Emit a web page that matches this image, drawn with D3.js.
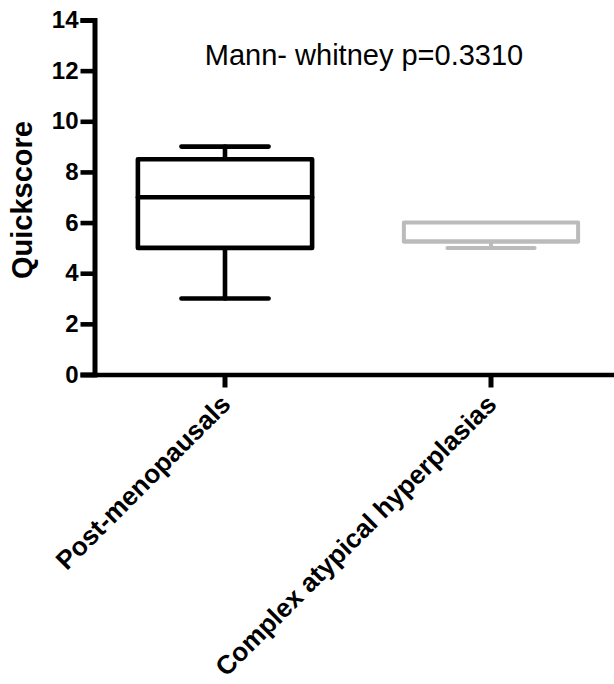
<!DOCTYPE html>
<html>
<head>
<meta charset="utf-8">
<script src="https://cdn.jsdelivr.net/npm/d3@7"></script>
<style>
  html, body { margin: 0; padding: 0; background: #fff; }
  svg { display: block; }
  text { font-family: Arial, "Liberation Sans", Helvetica, sans-serif; }
</style>
</head>
<body>
<svg id="chart" width="614" height="684"></svg>
<script>
const categories = ["Post-menopausals", "Complex atypical hyperplasias"];
const mins    = [3, 5];
const q1s     = [5, 5.25];
const medians = [7, 5.25];
const q3s     = [8.5, 6];
const maxs    = [9, 6];
const colors  = ["#000000", "#bbbbbb"];
const yTicks  = [0, 2, 4, 6, 8, 10, 12, 14];
const annotation = "Mann- whitney p=0.3310";
const yTitle = "Quickscore";

const svg = d3.select("#chart");

const x = d3.scaleBand().domain(categories).range([92, 624]);
const y = d3.scaleLinear().domain([0, 14]).range([374.5, 20]);

const data = categories.map((c, i) => ({
  cat: c, min: mins[i], q1: q1s[i], med: medians[i], q3: q3s[i], max: maxs[i], color: colors[i]
}));

const boxW = x.bandwidth() * 0.655;
const capW = boxW / 2;
const sw = 4.6;

// Boxes
const g = svg.append("g");
data.forEach(d => {
  const cx = x(d.cat) + x.bandwidth() / 2;
  const gg = g.append("g")
    .attr("stroke", d.color)
    .attr("stroke-width", d.color === "#000000" ? sw : 4)
    .attr("stroke-linecap", "round")
    .attr("stroke-linejoin", "round")
    .attr("fill", "none");
  if (d.min < d.q1) {
    gg.append("line").attr("x1", cx).attr("x2", cx).attr("y1", y(d.q1)).attr("y2", y(d.min));
    gg.append("line").attr("x1", cx - capW / 2).attr("x2", cx + capW / 2).attr("y1", y(d.min)).attr("y2", y(d.min));
  }
  if (d.max > d.q3) {
    gg.append("line").attr("x1", cx).attr("x2", cx).attr("y1", y(d.q3)).attr("y2", y(d.max));
    gg.append("line").attr("x1", cx - capW / 2).attr("x2", cx + capW / 2).attr("y1", y(d.max)).attr("y2", y(d.max));
  }
  gg.append("rect")
    .attr("x", cx - boxW / 2).attr("width", boxW)
    .attr("y", y(d.q3)).attr("height", y(d.q1) - y(d.q3))
    .attr("fill", "#fff");
  gg.append("line").attr("x1", cx - boxW / 2).attr("x2", cx + boxW / 2)
    .attr("y1", y(d.med)).attr("y2", y(d.med));
});

// Y axis
const yAxis = d3.axisLeft(y).tickValues(yTicks).tickSize(14).tickSizeOuter(14).tickPadding(2)
  .tickFormat(d3.format("d"));
const yg = svg.append("g").attr("transform", "translate(94.5,0)").call(yAxis);
yg.select(".domain").attr("stroke", "#000").attr("stroke-width", 5).attr("stroke-linejoin", "miter");
yg.selectAll(".tick line").attr("stroke", "#000").attr("stroke-width", sw);
yg.selectAll(".tick text")
  .attr("font-size", 24).attr("font-weight", "bold").attr("fill", "#000")
  .attr("font-family", 'Arial, "Liberation Sans", Helvetica, sans-serif');

// X axis
const xAxis = d3.axisBottom(x).tickSize(13).tickSizeOuter(0).tickFormat("");
const xg = svg.append("g").attr("transform", "translate(0,374.5)").call(xAxis);
xg.select(".domain").attr("stroke", "#000").attr("stroke-width", sw);
xg.selectAll(".tick line").attr("stroke", "#000").attr("stroke-width", 5);

// Rotated category labels
svg.append("g").selectAll("text")
  .data(categories)
  .join("text")
  .attr("transform", d => `translate(${x(d) + x.bandwidth() / 2 + 7},406) rotate(-45)`)
  .attr("text-anchor", "end")
  .attr("font-size", 26.3)
  .attr("font-weight", "bold")
  .attr("fill", "#000")
  .text(d => d);

// Y title
svg.append("text")
  .attr("transform", "translate(32,200) rotate(-90)")
  .attr("text-anchor", "middle")
  .attr("font-size", 29)
  .attr("font-weight", "bold")
  .attr("fill", "#000")
  .text(yTitle);

// Annotation
svg.append("text")
  .attr("x", 364).attr("y", 65)
  .attr("text-anchor", "middle")
  .attr("font-size", 29)
  .attr("fill", "#000")
  .text(annotation);
</script>
</body>
</html>
